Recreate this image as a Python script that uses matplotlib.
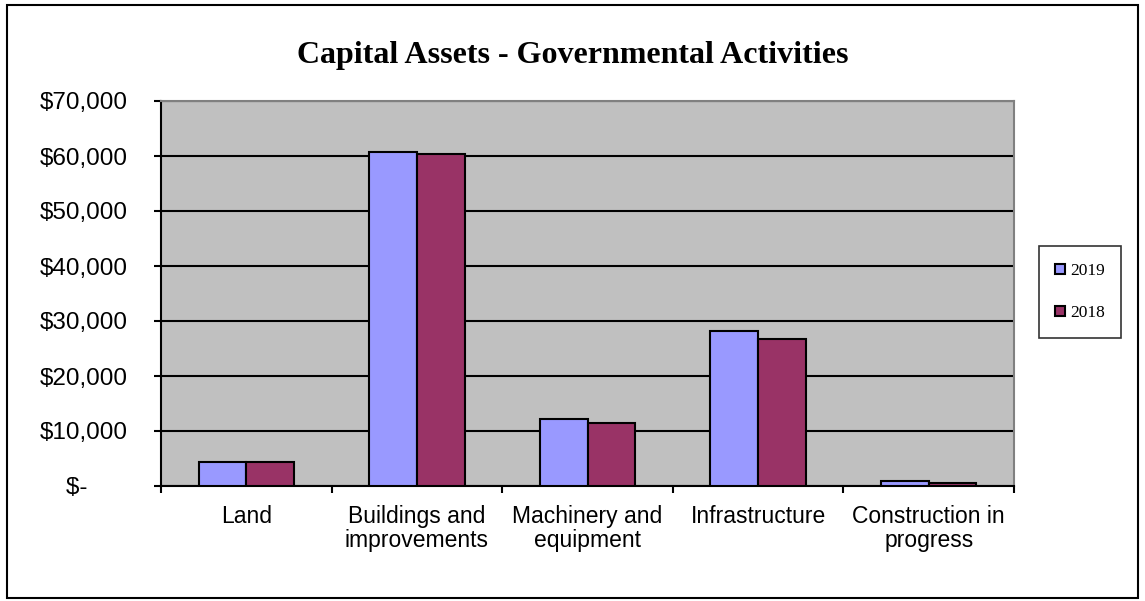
import matplotlib.pyplot as plt
from matplotlib.patches import Rectangle
from matplotlib.ticker import FuncFormatter, FixedLocator
import numpy as np

categories = ['Land', 'Buildings and\nimprovements', 'Machinery and\nequipment',
              'Infrastructure', 'Construction in\nprogress']
vals_2019 = [4350, 60700, 12150, 28200, 950]
vals_2018 = [4300, 60300, 11500, 26750, 600]
series_names = ['2019', '2018']
colors = ['#9999ff', '#993366']

fig = plt.figure(figsize=(11.45, 6.01), dpi=100)
ax = fig.add_axes([161/1145, 1 - 486/601, (1014-161)/1145, (486-101)/601])

x = np.arange(len(categories))
w = 0.28
b1 = ax.bar(x - w/2, vals_2019, w, color=colors[0], edgecolor='black', linewidth=1.5,
            label=series_names[0], zorder=3)
b2 = ax.bar(x + w/2, vals_2018, w, color=colors[1], edgecolor='black', linewidth=1.5,
            label=series_names[1], zorder=3)

ax.set_xlim(-0.5, len(categories) - 0.5)
ax.set_ylim(0, 70000)
ax.set_facecolor('#c0c0c0')
ax.set_yticks(np.arange(0, 70001, 10000))
ax.yaxis.grid(True, color='black', linewidth=1.5, zorder=1)
ax.set_axisbelow(True)

def money(v, pos):
    if v == 0:
        return '$-      '
    return '${:,.0f}'.format(v)
ax.yaxis.set_major_formatter(FuncFormatter(money))

ax.set_xticks(x)
ax.set_xticklabels(categories, fontsize=16.5, family='Liberation Sans', linespacing=1.05)
ax.tick_params(axis='x', length=0, pad=14)
ax.xaxis.set_minor_locator(FixedLocator(np.arange(-0.5, len(categories), 1.0)))
ax.tick_params(axis='x', which='minor', length=5, width=1.5, direction='out')
ax.tick_params(axis='y', labelsize=17.5, length=5, width=1.5, direction='out', pad=19)
for lab in ax.get_yticklabels():
    lab.set_family('Liberation Sans')

for side in ['top', 'right']:
    ax.spines[side].set_color('#808080')
    ax.spines[side].set_linewidth(1.5)
ax.spines['left'].set_linewidth(1.5)
ax.spines['bottom'].set_linewidth(1.5)

fig.text(0.5, 1 - 55/601, 'Capital Assets - Governmental Activities', ha='center', va='center',
         fontsize=23, fontweight='bold', family='Liberation Serif')

leg = fig.legend(handles=[b1, b2], loc='center', bbox_to_anchor=(1080/1145, 1 - 292/601),
                 frameon=True, fancybox=False, edgecolor='black', handlelength=0.55,
                 handleheight=0.55, handletextpad=0.3, labelspacing=1.5, borderpad=0.95,
                 prop={'family': 'Liberation Serif', 'size': 12.5})
leg.get_frame().set_linewidth(1.2)

fig.patches.append(Rectangle((7/1145, 1 - 598/601), (1138-7)/1145, (598-5)/601,
                             transform=fig.transFigure, fill=False, edgecolor='black',
                             linewidth=1.5))

fig.savefig('out.png', dpi=100)
